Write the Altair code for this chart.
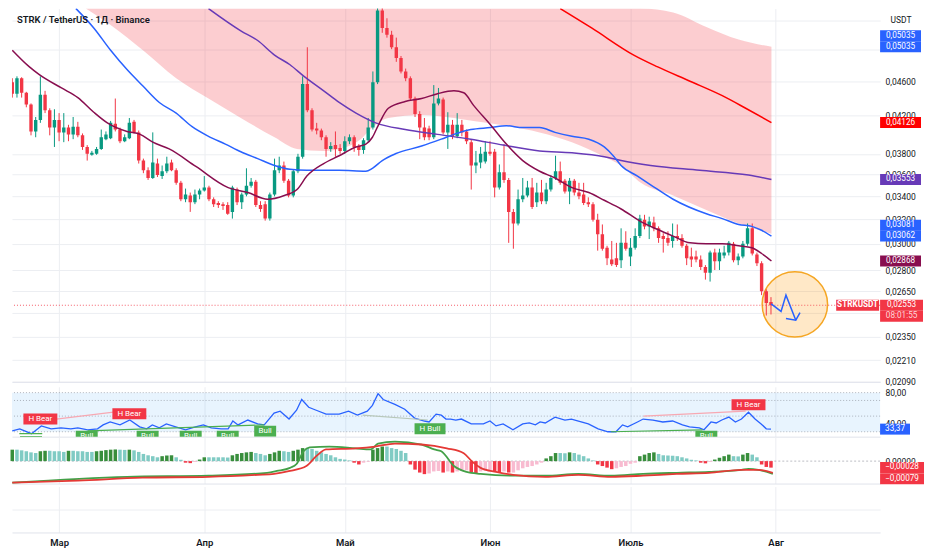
import altair as alt
import pandas as pd

FONT = "Roboto"
TXT = "#131722"
GRID = "#eceef2"
SEP = "#e0e3eb"
GREEN = "#089981"
RED = "#f23645"
BLUE = "#2962ff"
PURPLE = "#673ab7"
MAROON = "#880e4f"
MA_RED = "#ff0000"

W = 870
H_MAIN, H_RSI, H_MACD, H_EMPTY = 374, 50, 47, 46
X_DOMAIN = [-0.06, 185.3]   # day index (0 = first candle)

# ---------------- data ----------------
month_days = [10, 41, 71, 102, 132, 163]
month_labels = ["Мар", "Апр", "Май", "Июн", "Июль", "Авг"]

price_ticks = [0.0209, 0.0221, 0.0235, 0.025, 0.0265, 0.028, 0.030, 0.032,
               0.034, 0.036, 0.038, 0.042, 0.046, 0.050, 0.054]
hidden_ticks = [0.025, 0.050, 0.054]

open_ = [
    .04588, .04451, .04636, .04462, .04328, .04031, .04155, .04439, .04262, .04072,
    .04155, .04021, .04072, .04000, .04082, .03990, .03870, .03791, .03801, .03850,
    .03950, .03960, .04113, .04051, .03929, .03960, .04134, .04021, .03734, .03640,
    .03567, .03705, .03585, .03631, .03715, .03640, .03522, .03373, .03407, .03347,
    .03416, .03451, .03478, .03373, .03339, .03330, .03322, .03263, .03460, .03347,
    .03416, .03495, .03531, .03322, .03330, .03206, .03416, .03640, .03686, .03540,
    .03407, .03631, .03772, .04565, .04262, .04061, .04041, .03970, .03850, .03889,
    .03860, .03830, .03929, .03970, .03879, .03840, .03939, .04072, .04588, .05539,
    .05291, .05198, .05029, .04890, .04719, .04636, .04395, .04219, .04072, .04061,
    .03970, .04339, .04384, .04021, .04102, .03980, .04102, .04031, .03919, .03686,
    .03715, .03724, .03821, .03821, .03478, .03621, .03549, .03263, .03165, .03373,
    .03407, .03478, .03347, .03433, .03356, .03460, .03567, .03631, .03540, .03442,
    .03540, .03433, .03416, .03347, .03330, .03197, .03077, .02970, .02880, .02888,
    .02873, .03008, .02902, .02970, .03062, .03197, .03141, .03173, .03125, .03062,
    .03046, .03023, .03062, .03046, .02985, .02902, .02902, .02880, .02823, .02780,
    .02932, .02866, .02910, .02932, .03000, .02873, .02902, .03000, .03125, .02917,
    .02851, .02649, .02575]
high = [
    .04636, .04659, .04648, .04473, .04339, .04187, .04659, .04485, .04284, .04273,
    .04230, .04230, .04102, .04187, .04134, .04010, .03889, .03830, .03870, .04051,
    .04031, .04144, .04395, .04072, .04000, .04176, .04155, .04041, .03753, .03668,
    .04021, .03753, .03686, .03772, .03743, .03659, .03540, .03469, .03433, .03460,
    .03469, .03585, .03495, .03390, .03356, .03347, .03347, .03495, .03478, .03433,
    .03659, .03567, .03549, .03356, .03356, .03433, .03753, .03772, .03724, .03558,
    .03649, .03801, .04659, .05029, .04284, .04123, .04061, .03990, .03919, .04031,
    .03899, .03980, .04000, .03990, .03899, .03960, .04176, .04719, .05800, .05700,
    .05427, .05251, .05158, .04915, .04755, .04659, .04417, .04251, .04176, .04092,
    .04553, .04519, .04406, .04240, .04155, .04230, .04155, .04051, .03950, .03830,
    .03870, .03929, .03929, .03850, .03696, .03899, .03567, .03288, .03460, .03567,
    .03540, .03567, .03522, .03549, .03522, .03594, .03782, .03724, .03558, .03567,
    .03558, .03522, .03522, .03390, .03347, .03247, .03157, .02985, .03023, .03008,
    .03125, .03101, .03046, .03125, .03238, .03238, .03222, .03222, .03141, .03085,
    .03101, .03165, .03157, .03077, .03000, .02970, .02947, .02910, .02837, .02947,
    .02962, .02962, .02985, .03023, .03015, .02925, .03023, .03165, .03165, .02932,
    .02866, .02662, .02608]
low = [
    .04406, .04406, .04406, .04295, .03990, .03970, .04123, .04230, .03990, .03870,
    .03929, .03919, .03929, .03950, .03970, .03840, .03734, .03782, .03791, .03840,
    .03939, .03950, .04031, .03909, .03919, .03950, .04010, .03705, .03612, .03549,
    .03558, .03576, .03558, .03612, .03631, .03504, .03356, .03347, .03263, .03330,
    .03373, .03442, .03356, .03305, .03297, .03280, .03238, .03206, .03322, .03288,
    .03399, .03478, .03305, .03263, .03189, .03189, .03399, .03612, .03522, .03390,
    .03390, .03612, .03753, .04240, .04031, .04000, .03939, .03772, .03821, .03772,
    .03801, .03801, .03899, .03821, .03782, .03801, .03919, .04051, .04565, .05224,
    .05158, .05004, .04840, .04695, .04600, .04372, .04187, .03950, .03939, .03939,
    .03950, .04317, .04000, .03850, .03950, .03960, .03980, .03899, .03460, .03612,
    .03659, .03705, .03782, .03390, .03460, .03522, .03008, .02962, .03149, .03347,
    .03390, .03288, .03305, .03330, .03330, .03442, .03549, .03504, .03424, .03330,
    .03407, .03373, .03322, .03305, .03181, .02947, .02947, .02837, .02830, .02823,
    .02815, .02947, .02830, .02955, .03046, .03117, .03038, .03101, .03008, .02932,
    .02985, .02970, .03023, .02970, .02837, .02823, .02858, .02801, .02731, .02717,
    .02801, .02801, .02888, .02910, .02858, .02837, .02888, .02985, .02910, .02830,
    .02622, .02485, .02492]
close = [
    .04451, .04636, .04462, .04328, .04031, .04155, .04439, .04262, .04072, .04155,
    .04021, .04072, .04000, .04082, .03990, .03870, .03801, .03811, .03850, .03970,
    .04000, .04123, .04051, .03929, .03970, .04123, .04021, .03734, .03640, .03567,
    .03715, .03594, .03631, .03705, .03640, .03522, .03373, .03416, .03347, .03416,
    .03451, .03478, .03373, .03330, .03322, .03313, .03247, .03478, .03347, .03416,
    .03495, .03531, .03322, .03288, .03206, .03416, .03640, .03686, .03540, .03407,
    .03631, .03772, .04565, .04262, .04051, .04041, .03970, .03850, .03879, .03850,
    .03830, .03929, .03970, .03870, .03840, .03939, .04072, .04588, .05539, .05291,
    .05198, .05029, .04890, .04719, .04636, .04395, .04219, .04072, .03970, .03970,
    .04339, .04395, .04021, .04102, .03980, .04102, .04021, .03929, .03686, .03715,
    .03801, .03821, .03801, .03478, .03621, .03549, .03263, .03165, .03373, .03407,
    .03478, .03305, .03433, .03356, .03460, .03567, .03631, .03522, .03442, .03540,
    .03433, .03399, .03339, .03330, .03197, .03077, .02962, .02888, .02844, .02837,
    .03008, .02962, .02970, .03062, .03206, .03141, .03181, .03125, .03046, .03038,
    .03008, .03062, .03046, .02985, .02888, .02880, .02880, .02823, .02780, .02932,
    .02866, .02932, .02932, .03008, .02873, .02902, .03000, .03125, .02925, .02851,
    .02649, .02569, .02553]

# moving averages / band (sampled along the curve)
maroon_day = [0.0, 3.6, 5.7, 10.5, 14.0, 17.4, 20.3, 24.5, 27.3, 30.0, 33.5, 39.2, 46.1, 50.3,
              54.5, 58.1, 60.8, 62.9, 66.5, 69.8, 73.4, 75.5, 76.9, 78.2, 80.3, 83.9, 87.4,
              90.8, 94.3, 96.4, 98.5, 102.1, 105.5, 109.0, 112.6, 115.9, 119.5, 123.1, 126.4,
              130.0, 134.2, 137.7, 141.1, 144.7, 148.2, 151.6, 155.1, 157.9, 160.0, 162.1]
maroon_val = [.04990, .04779, .04683, .04519, .04406, .04240, .04123, .04031, .04000, .03919,
              .03850, .03677, .03478, .03433, .03373, .03407, .03460, .03585, .03705, .03782,
              .03870, .03899, .03970, .04102, .04284, .04361, .04395, .04451, .04485, .04462,
              .04317, .04102, .03899, .03734, .03631, .03567, .03478, .03433, .03364, .03288,
              .03181, .03117, .03062, .03008, .03000, .03000, .02985, .02970, .02925, .02868]
blue_day = [13.6, 17.4, 21.0, 24.5, 27.9, 31.4, 35.0, 38.4, 41.9, 45.5, 48.8, 52.4, 56.0, 59.3,
            62.9, 69.8, 75.5, 76.9, 79.0, 81.8, 87.4, 91.6, 94.3, 97.9, 102.1, 105.5, 109.0,
            112.6, 115.9, 119.5, 123.1, 126.4, 128.5, 130.0, 133.5, 136.3, 141.1, 148.2, 151.6,
            155.1, 157.9, 160.0, 162.1]
blue_val = [.05567, .05291, .04990, .04743, .04542, .04350, .04230, .04082, .03980, .03899,
            .03821, .03753, .03686, .03649, .03640, .03640, .03631, .03659, .03734, .03801,
            .03879, .03950, .04000, .04051, .04072, .04092, .04072, .04072, .04021, .03980,
            .03950, .03870, .03772, .03686, .03585, .03504, .03373, .03247, .03206, .03157,
            .03141, .03109, .03062]
purple_day = [41.9, 48.8, 52.4, 56.0, 59.3, 62.3, 66.5, 69.8, 73.4, 77.6, 83.9, 90.8, 97.9,
              104.8, 112.6, 119.5, 126.4, 130.0, 136.3, 146.8, 157.2, 162.1]
purple_val = [.05567, .05251, .05119, .04927, .04803, .04659, .04485, .04350, .04230, .04123,
              .04051, .04000, .03950, .03889, .03830, .03811, .03772, .03734, .03686, .03640,
              .03594, .03553]
red_day = [117.0, 123.7, 132.7, 137.7, 144.7, 151.6, 156.6, 162.1]
red_val = [.05567, .05291, .04927, .04779, .04600, .04428, .04284, .04126]

band_day = [15.7, 21.0, 27.9, 35.0, 41.9, 48.8, 56.0, 60.8, 66.5, 71.3, 74.4, 76.9, 80.3,
            87.4, 94.3, 98.5, 105.5, 112.6, 119.5, 126.4, 130.0, 134.2, 141.1, 148.2, 155.1, 162.1]
band_lower = [.05567, .05331, .04990, .04636, .04395, .04176, .03970, .03850, .03830, .03870,
              .03950, .04072, .04176, .04208, .04176, .04144, .04092, .04021, .03919, .03772,
              .03686, .03522, .03407, .03280, .03165, .03081]
band_upper = [.0557, .0557, .0557, .0557, .0557, .0557, .0557, .0557, .0557, .0557, .0557,
              .0557, .0557, .0557, .0557, .0557, .0557, .0557, .0557, .0557, .0557, .0557,
              .05511, .05305, .05132, .05035]

last_price = 0.02553

# drawing: circle + arrow
circle_day, circle_val = [167.1], [0.02559]
arrow_seg = [0, 0, 0, 0, 1, 1, 1]
arrow_ord = [0, 1, 2, 3, 0, 1, 2]
arrow_day = [162.05, 164.15, 165.2, 167.3, 165.2, 167.3, 168.2]
arrow_val = [.02562, .02512, .02622, .02455, .02466, .02455, .02504]

# RSI
rsi_day = [0, 1.6, 4.1, 6.2, 8.3, 10.4, 12.5, 14.0, 16.1, 18.2,
           19.4, 20.9, 23.0, 25.1, 27.2, 28.7, 29.9, 31.4, 32.9, 34.9,
           37.0, 39.1, 40.8, 42.5, 44.6, 46.1, 47.1, 48.2, 50.3, 52.4,
           53.8, 55.9, 57.2, 59.1, 60.7, 61.8, 63.3, 64.9, 67.0, 69.8,
           71.8, 73.7, 75.8, 76.9, 78.1, 79.2, 81.7, 83.8, 85.9, 88.0,
           89.0, 90.5, 91.6, 92.6, 93.6, 94.7, 95.9, 98.0, 100.6, 102.0,
           103.3, 104.8, 106.9, 109.0, 110.4, 111.7, 112.7, 113.8, 115.9, 118.0,
           119.4, 120.9, 123.0, 125.1, 127.2, 128.9, 130.3, 131.4, 133.5, 134.7,
           136.8, 138.9, 141.0, 143.1, 144.6, 146.7, 147.7, 149.2, 150.3, 151.5,
           153.0, 154.4, 155.7, 157.2, 158.6, 159.9, 161.0, 162.0]
rsi_val = [31.25, 33.75, 27.5, 37.5, 33.75, 35, 33.75, 35, 32.5, 33.75,
           38.75, 42.5, 38.75, 45, 36.25, 33.75, 38.75, 35, 40, 36.25,
           32.5, 36.25, 38.75, 35, 33.75, 33.75, 43.75, 38.75, 45, 40,
           38.75, 53.75, 56.25, 46.25, 57.5, 71.25, 61.25, 57.5, 52.5, 52.5,
           56.25, 51.25, 56.25, 63.75, 78.75, 71.25, 65, 58.75, 47.5, 43.75,
           42.5, 52.5, 51.25, 46.25, 46.25, 45, 46.25, 40, 40, 43.75,
           37.5, 40, 32.5, 40, 41.25, 38.75, 42.5, 41.25, 48.75, 45,
           46.25, 43.75, 40, 33.75, 30, 30, 38.75, 36.25, 42.5, 46.25,
           45, 42.5, 43.75, 38.75, 36.25, 35, 32.5, 42.5, 41.25, 45,
           48.75, 42.5, 46.25, 55, 46.25, 40, 33.75, 33.37]
rsi_levels = [80, 70, 50, 30]

div_d1 = [1.5, 9.4, 16.1, 74.8, 127.8, 134.8]
div_v1 = [27.5, 46.25, 31.25, 51.25, 30, 50]
div_d2 = [6.4, 21.6, 53.8, 88.7, 147.4, 156.6]
div_v2 = [27.5, 55, 38.75, 45, 32.5, 56.25]
div_kind = ["bull", "bear", "bull", "hbull", "bull", "bear"]

lab_day = [6.0, 25.0, 157.2, 4.0, 15.9, 28.9, 38.1, 46.0, 54.0, 148.2, 89.2]
lab_val = [46.25, 53.1, 64.4, 17.5, 24.4, 24.4, 24.4, 24.4, 30.6, 24.4, 33.75]
lab_text = ["H Bear", "H Bear", "H Bear", "Bull", "Bull", "Bull", "Bull", "Bull",
            "Bull", "Bull", "H Bull"]

# MACD
macd_hist = [
    .00051, .00051, .00048, .00044, .00039, .00036, .00044, .00046, .00046, .00044,
    .00044, .00041, .00046, .00046, .00044, .00044, .00041, .00041, .00044, .00046,
    .00049, .00051, .00052, .00051, .00050, .00051, .00048, .00041, .00032, .00026,
    .00022, .00017, .00022, .00025, .00026, .00017, .00006, -.00007, -.00009, -.00004,
    .00007, .00017, .00017, .00017, .00017, .00017, .00016, .00026, .00032, .00036,
    .00039, .00041, .00036, .00032, .00026, .00032, .00039, .00046, .00044, .00041,
    .00046, .00051, .00058, .00058, .00054, .00046, .00039, .00032, .00026, .00017,
    .00010, .00007, .00003, -.00007, -.00015, -.00007, -.00003, .00051, .00058, .00065,
    .00065, .00058, .00054, .00046, .00036, -.00015, -.00038, -.00051, -.00058, -.00055,
    -.00046, -.00044, -.00051, -.00046, -.00051, -.00046, -.00044, -.00041, -.00051, -.00055,
    -.00046, -.00044, -.00041, -.00046, -.00051, -.00046, -.00051, -.00051, -.00041, -.00032,
    -.00026, -.00022, -.00015, -.00007, .00012, .00022, .00036, .00036, .00035, .00039,
    .00036, .00029, .00022, .00012, .00003, -.00015, -.00022, -.00029, -.00036, -.00032,
    -.00026, -.00022, -.00012, -.00007, .00022, .00029, .00036, .00039, .00032, .00026,
    .00025, .00024, .00022, .00017, .00012, .00006, .00003, -.00007, -.00010, -.00004,
    .00007, .00015, .00022, .00029, .00022, .00021, .00029, .00036, .00029, .00017,
    -.00015, -.00026, -.00029]
macd_red_day = [0, 14.0, 27.8, 41.9, 52.4, 55.9, 59.3, 62.8, 64.9, 67.0, 73.3, 77.5, 81.7,
                87.4, 92.8, 96.4, 98.1, 100.0, 103.3, 106.9, 113.8, 120.9, 127.8, 134.7,
                141.9, 148.8, 155.7, 159.3, 162.4]
macd_red = [-0.00096, -0.00087, -0.00074, -0.0007, -0.00061, -0.00057, -0.00044, -0.00022,
            0.00022, 0.00052, 0.00057, 0.00065, 0.00078, 0.00074, 0.00057, 0.00035, 0.0,
            -0.0003, -0.00048, -0.00061, -0.0007, -0.00061, -0.0007, -0.00065, -0.00057,
            -0.00052, -0.00039, -0.00039, -0.00052]
macd_green_day = [0, 24.5, 41.9, 54.4, 56.5, 59.3, 60.7, 62.2, 63.5, 67.7, 73.3, 76.5, 78.1,
                  81.7, 87.4, 90.1, 91.6, 94.3, 97.0, 100.0, 106.9, 113.8, 120.9, 127.8,
                  134.7, 141.9, 148.8, 155.7, 157.2, 159.3, 162.4]
macd_green = [-0.00096, -0.0007, -0.00065, -0.00052, -0.00044, -0.0003, -0.00013, 0.00044,
              0.00061, 0.00065, 0.00057, 0.00052, 0.00078, 0.00087, 0.00074, 0.00052,
              0.00044, -0.00022, -0.00048, -0.00057, -0.00065, -0.00065, -0.00057,
              -0.00065, -0.00057, -0.00052, -0.00048, -0.00039, -0.00035, -0.00039, -0.00057]

assert len(open_) == len(high) == len(low) == len(close) == len(macd_hist) == 163
assert len(rsi_day) == len(rsi_val)
assert len(maroon_day) == len(maroon_val) and len(blue_day) == len(blue_val)
assert len(purple_day) == len(purple_val) and len(band_day) == len(band_lower) == len(band_upper)
assert len(macd_red_day) == len(macd_red) and len(macd_green_day) == len(macd_green)

# ---------------- frames ----------------
days = list(range(len(close)))
candles = pd.DataFrame({"d": days, "o": open_, "h": high, "l": low, "c": close})
candles["col"] = [GREEN if c >= o else RED for o, c in zip(open_, close)]

hist_col = []
prev = None
for v in macd_hist:
    if v >= 0:
        hist_col.append("#388e3c" if (prev is None or v > prev) else "#80cbc4")
    else:
        hist_col.append("#f23645" if (prev is not None and v < prev) else "#f8bbd0")
    prev = v
hist = pd.DataFrame({"d": days, "h": macd_hist, "col": hist_col})

# ---------------- encodings ----------------
x_scale = alt.Scale(domain=X_DOMAIN, nice=False, zero=False, padding=0)
month_expr = ("[" + ",".join(f"'{m}'" for m in month_labels) + "][indexof(["
              + ",".join(str(d) for d in month_days) + "], datum.value)]")


def x_axis(show):
    return alt.Axis(values=month_days, grid=True, gridColor=GRID, gridWidth=1, ticks=False,
                    labels=show, labelExpr=month_expr, labelFont=FONT, labelFontSize=9.5,
                    labelFontWeight=600, labelColor=TXT, labelPadding=5, labelFlush=False,
                    domain=True, domainColor=SEP, domainWidth=1, title=None)


def X(field, show=False):
    return alt.X(f"{field}:Q", scale=x_scale, axis=x_axis(show))


def num_expr(fmt):
    return f"replace(format(datum.value, '{fmt}'), '.', ',')"


hidden_cond = " || ".join(f"abs(datum.value - {h}) < 1e-7" for h in hidden_ticks)
price_expr = f"({hidden_cond}) ? '' : {num_expr('.5f')}"


def make_y(scale, axis):
    def f(field):
        return alt.Y(f"{field}:Q", scale=scale, axis=axis)
    return f


def right_axis(values, expr, grid=False, labels=True):
    return alt.Axis(orient="right", values=values, grid=grid, gridColor=GRID, ticks=False,
                    domain=False, labels=labels, labelExpr=expr, labelFont=FONT,
                    labelFontSize=8.5, labelColor=TXT, labelPadding=5, labelOverlap=False,
                    labelFlush=False, title=None)


YM = make_y(alt.Scale(type="log", domain=[0.02088, 0.05567], nice=False, padding=0),
            right_axis(price_ticks, price_expr, grid=True))
YR = make_y(alt.Scale(domain=[23.75, 87.5], nice=False, zero=False, padding=0),
            right_axis([80, 40], num_expr('.2f')))
YD = make_y(alt.Scale(domain=[-0.00100, 0.00109], nice=False, zero=False, padding=0),
            right_axis([0], num_expr('.5f')))
YE = make_y(alt.Scale(domain=[0, 1], nice=False, padding=0),
            right_axis([0.5], "''", grid=True, labels=False))


def rect_path(width, height=11.0):
    hh = height / width
    return f"M-1,-{hh:.4f}H1V{hh:.4f}H-1Z"


def badge(Yf, value, label, color, width=41, yoff=0, tcolor="white", xc=None, bold=False):
    df = pd.DataFrame({"v": [value], "t": [label]})
    if xc is None:
        xc = W + width / 2.0
    box = alt.Chart(df).mark_point(shape=rect_path(width), size=width * width, filled=True,
                                   color=color, opacity=1, strokeWidth=0, yOffset=yoff
                                   ).encode(x=alt.value(xc), y=Yf("v"))
    txt = alt.Chart(df).mark_text(color=tcolor, font=FONT, fontSize=8.2, align="center",
                                  baseline="middle", dy=yoff,
                                  fontWeight=("bold" if bold else "normal")
                                  ).encode(x=alt.value(xc), y=Yf("v"), text="t:N")
    return [box, txt]


# ---------------- main price pane ----------------
band_df = pd.DataFrame({"d": band_day, "lo": band_lower, "hi": band_upper})
band = alt.Chart(band_df).mark_area(color=RED, opacity=0.25, clip=True, interpolate="monotone"
                                    ).encode(x=X("d"), y=YM("lo"), y2=alt.Y2("hi"))

circle = alt.Chart(pd.DataFrame({"d": circle_day, "v": circle_val})).mark_point(
    shape="circle", size=4300, filled=True, color="#ff9800", fillOpacity=0.22,
    stroke="#f5a623", strokeWidth=1.5, strokeOpacity=1).encode(x=X("d"), y=YM("v"))

wicks = alt.Chart(candles).mark_rule(strokeWidth=1, clip=True).encode(
    x=X("d"), y=YM("l"), y2=alt.Y2("h"), color=alt.Color("col:N", scale=None))
bodies = alt.Chart(candles).mark_bar(size=3.4, clip=True).encode(
    x=X("d"), y=YM("o"), y2=alt.Y2("c"), color=alt.Color("col:N", scale=None))


def ma_line(dd, vv, color, width=1.5):
    return alt.Chart(pd.DataFrame({"d": dd, "v": vv})).mark_line(
        color=color, strokeWidth=width, clip=True, interpolate="monotone"
    ).encode(x=X("d"), y=YM("v"))


lines_main = [ma_line(red_day, red_val, MA_RED), ma_line(purple_day, purple_val, PURPLE),
              ma_line(blue_day, blue_val, BLUE), ma_line(maroon_day, maroon_val, MAROON)]

price_rule = alt.Chart(pd.DataFrame({"v": [last_price]})).mark_rule(
    color=RED, strokeDash=[1, 2], opacity=0.8, strokeWidth=1).encode(y=YM("v"))

arrow = alt.Chart(pd.DataFrame({"d": arrow_day, "v": arrow_val, "s": arrow_seg, "o": arrow_ord})
                  ).mark_line(color=BLUE, strokeWidth=1.5, clip=True).encode(
    x=X("d"), y=YM("v"), detail="s:N", order="o:Q")

title = alt.Chart(pd.DataFrame({"t": ["STRK / TetherUS · 1Д · Binance"]})).mark_text(
    align="left", baseline="middle", font=FONT, fontSize=9.5, fontWeight=600, color=TXT
).encode(x=alt.value(5), y=alt.value(11), text="t:N")
usdt = alt.Chart(pd.DataFrame({"t": ["USDT"]})).mark_text(
    align="center", baseline="middle", font=FONT, fontSize=8.5, color=TXT
).encode(x=alt.value(W + 21), y=alt.value(11), text="t:N")

main_badges = []
main_badges += badge(YM, 0.05035, "0,05035", BLUE, yoff=-11)
main_badges += badge(YM, 0.05035, "0,05035", BLUE)
main_badges += badge(YM, 0.04126, "0,04126", MA_RED)
main_badges += badge(YM, 0.03553, "0,03553", PURPLE)
main_badges += badge(YM, 0.03081, "0,03081", BLUE, yoff=-8.5)
main_badges += badge(YM, 0.03062, "0,03062", BLUE)
main_badges += badge(YM, 0.02868, "0,02868", MAROON)
main_badges += badge(YM, last_price, "0,02553", RED, width=43)
main_badges += badge(YM, last_price, "08:01:55", RED, width=43, yoff=11, tcolor="#ffd6da")
main_badges += badge(YM, last_price, "STRKUSDT", RED, width=43, xc=W - 22.5, bold=True)

main = alt.layer(band, circle, wicks, bodies, *lines_main, price_rule, arrow, title, usdt,
                 *main_badges).properties(width=W, height=H_MAIN)

# ---------------- RSI pane ----------------
rsi_band = alt.Chart(pd.DataFrame({"a": [80], "b": [30]})).mark_rect(
    color="#2196f3", opacity=0.1).encode(x=alt.value(0), x2=alt.value(W), y=YR("a"), y2=alt.Y2("b"))
rsi_lv = alt.Chart(pd.DataFrame({"v": rsi_levels})).mark_rule(
    color="#787b86", strokeDash=[1, 2], opacity=0.55, strokeWidth=1).encode(y=YR("v"))
rsi_line = alt.Chart(pd.DataFrame({"d": rsi_day, "v": rsi_val})).mark_line(
    color=BLUE, strokeWidth=1.3).encode(x=X("d"), y=YR("v"))

div_colors = {"bull": "#4caf50", "bear": "#f7a8b2", "hbull": "#b8c8ba"}
div_df = pd.DataFrame({"d1": div_d1, "v1": div_v1, "d2": div_d2, "v2": div_v2,
                       "c": [div_colors[k] for k in div_kind]})
div_lines = alt.Chart(div_df).mark_rule(strokeWidth=1.2, clip=True).encode(
    x=X("d1"), x2=alt.X2("d2"), y=YR("v1"), y2=alt.Y2("v2"), color=alt.Color("c:N", scale=None))

lab_w = {"H Bear": 34, "Bull": 22, "H Bull": 31}
lab_df = pd.DataFrame({"d": lab_day, "v": lab_val, "t": lab_text})
lab_df["shape"] = [rect_path(lab_w[t]) for t in lab_text]
lab_df["size"] = [lab_w[t] ** 2 for t in lab_text]
lab_df["c"] = ["#f23645" if "Bear" in t else "#4caf50" for t in lab_text]
lab_boxes = alt.Chart(lab_df).mark_point(filled=True, opacity=1, strokeWidth=0, clip=True).encode(
    x=X("d"), y=YR("v"), shape=alt.Shape("shape:N", scale=None),
    size=alt.Size("size:Q", scale=None), color=alt.Color("c:N", scale=None))
lab_text_m = alt.Chart(lab_df).mark_text(color="white", font=FONT, fontSize=8, clip=True,
                                         align="center", baseline="middle").encode(
    x=X("d"), y=YR("v"), text="t:N")

rsi = alt.layer(rsi_band, rsi_lv, rsi_line, div_lines, lab_boxes, lab_text_m,
                *badge(YR, 33.37, "33,37", BLUE, width=30)).properties(width=W, height=H_RSI)

# ---------------- MACD pane ----------------
zero_rule = alt.Chart(pd.DataFrame({"v": [0.0]})).mark_rule(
    color="#787b86", strokeDash=[2, 2], opacity=0.5).encode(y=YD("v"))
bars = alt.Chart(hist).mark_bar(size=3.5).encode(
    x=X("d"), y=YD("h"), color=alt.Color("col:N", scale=None))
m_red = alt.Chart(pd.DataFrame({"d": macd_red_day, "v": macd_red})).mark_line(
    color="#e53935", strokeWidth=1.8, interpolate="monotone").encode(x=X("d"), y=YD("v"))
m_green = alt.Chart(pd.DataFrame({"d": macd_green_day, "v": macd_green})).mark_line(
    color="#43a047", strokeWidth=1.8, interpolate="monotone").encode(x=X("d"), y=YD("v"))

macd = alt.layer(zero_rule, bars, m_green, m_red,
                 *badge(YD, -0.00028, "\u22120,00028", RED, width=44),
                 *badge(YD, -0.00079, "\u22120,00079", RED, width=44)
                 ).properties(width=W, height=H_MACD)

# ---------------- empty bottom pane with time axis ----------------
empty = alt.Chart(pd.DataFrame({"d": [10.0], "v": [0.5]})).mark_point(opacity=0).encode(
    x=X("d", True), y=YE("v")).properties(width=W, height=H_EMPTY)

chart = alt.vconcat(main, rsi, macd, empty, spacing=0).properties(
    padding=0, background="white"
).configure_view(stroke=None).configure_text(font=FONT)

chart.save("out.html", embed_options={"renderer": "svg", "actions": False})
